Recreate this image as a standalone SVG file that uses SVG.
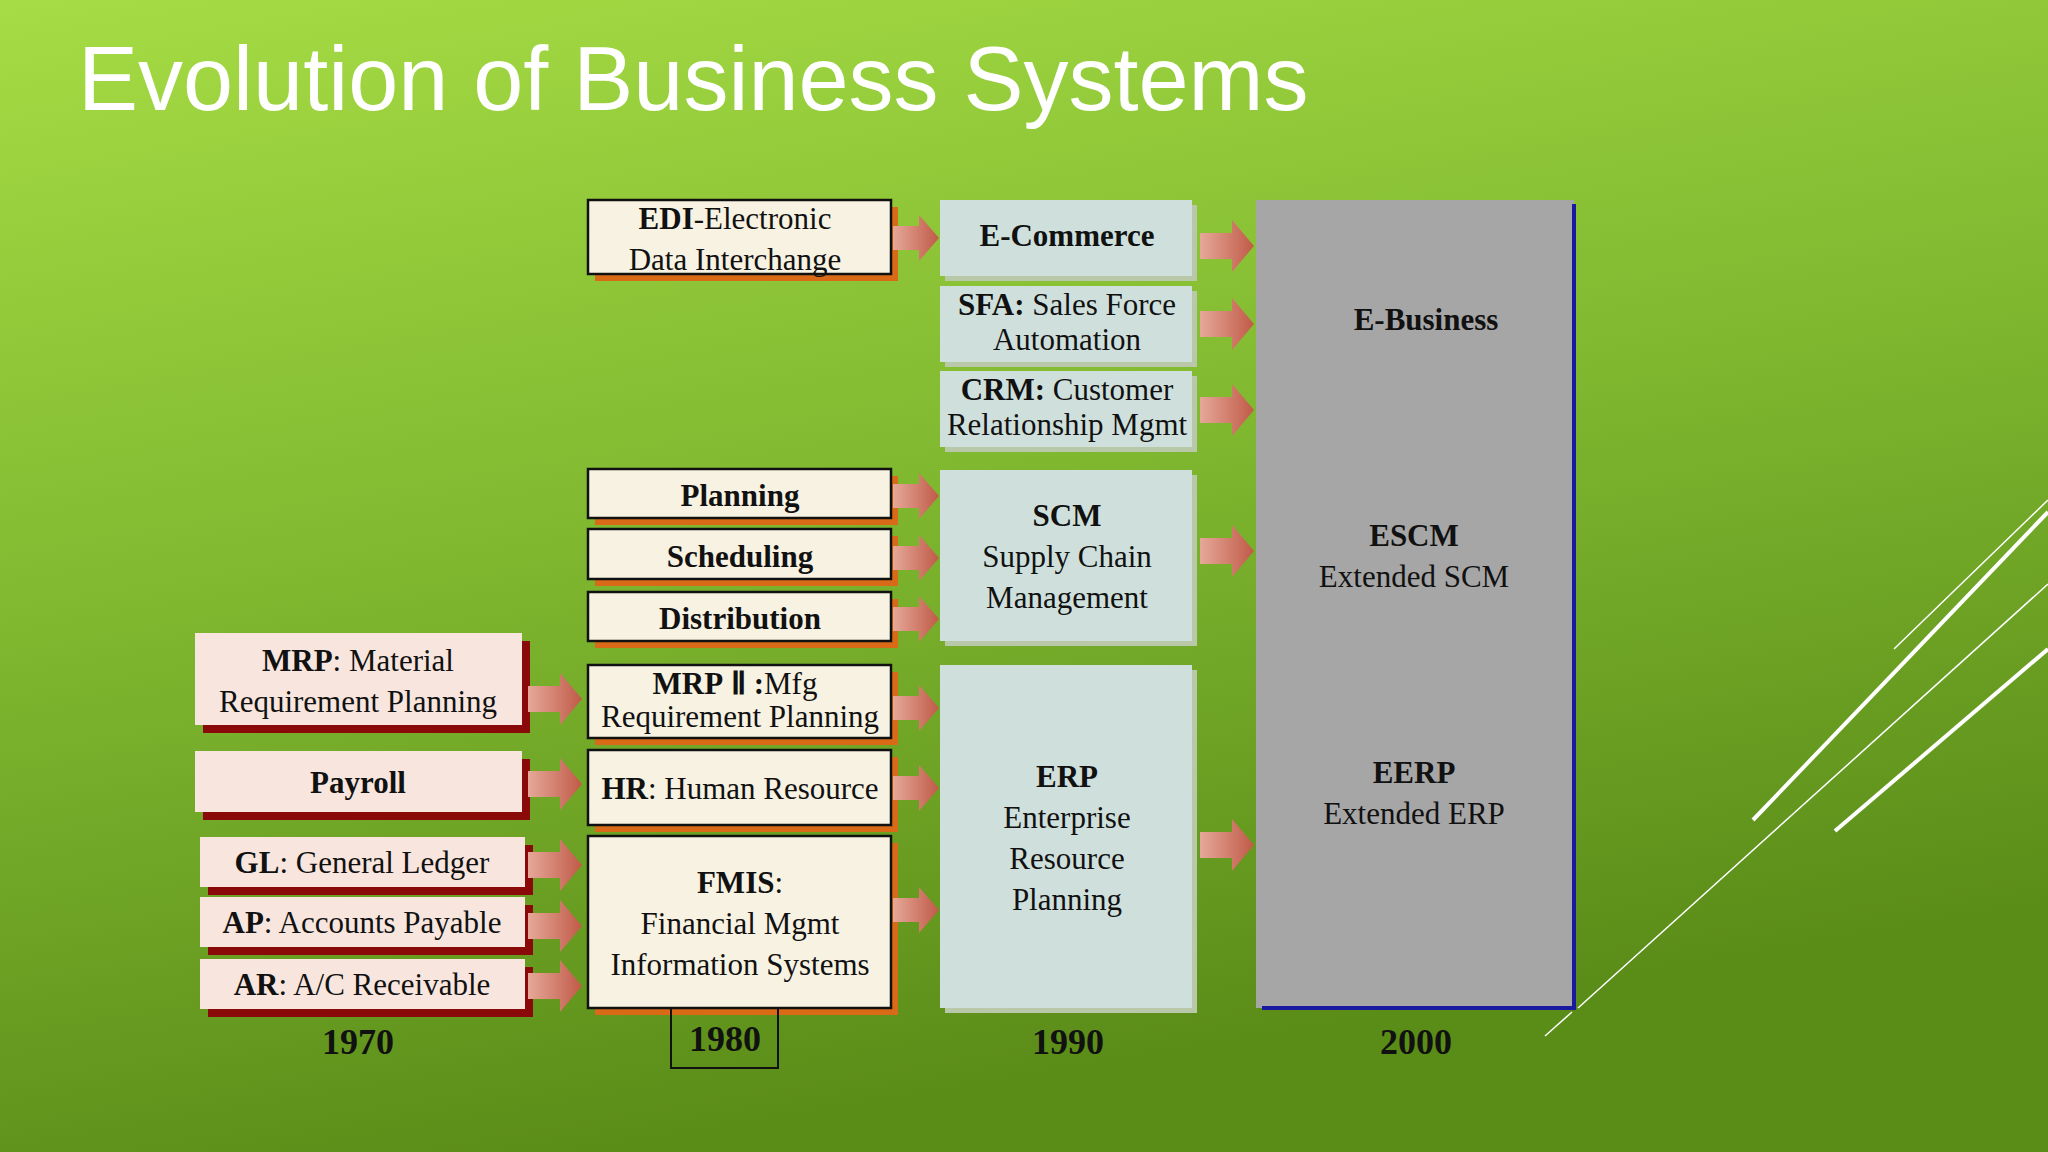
<svg xmlns="http://www.w3.org/2000/svg" width="2048" height="1152" viewBox="0 0 2048 1152">
<defs>
<linearGradient id="bg" x1="0" y1="0" x2="0.3" y2="1">
<stop offset="0" stop-color="#a6dc44"/><stop offset="0.5" stop-color="#80b830"/><stop offset="1" stop-color="#5a8c18"/>
</linearGradient>
<linearGradient id="ag" x1="0" y1="0" x2="1" y2="0">
<stop offset="0" stop-color="#e6a898"/><stop offset="1" stop-color="#c05a48"/>
</linearGradient>
<path id="arr" d="M0,-13 H32 V-26 L54,0 L32,26 V13 H0 Z" fill="url(#ag)"/>
<path id="arrs" d="M0,-12 H26 V-23 L46,0 L26,23 V12 H0 Z" fill="url(#ag)"/>
</defs>
<style>
text{font-family:"Liberation Serif","Times New Roman",serif;font-size:31px;fill:#111;text-anchor:middle}
.b{font-weight:bold}
.yr{font-weight:bold;font-size:36px}
.p{fill:#f8e6de}
.ps{fill:#8a0a0a}
.c{fill:#f8f2e2;stroke:#111;stroke-width:2.5}
.cs{fill:#d86a18}
.t{fill:#cfe0dc}
.ts{fill:#b8c8a8}
</style>
<rect width="2048" height="1152" fill="url(#bg)"/>
<text x="78" y="110" style="font-family:'Liberation Sans',Arial,sans-serif;font-size:90px;fill:#fff;text-anchor:start">Evolution of Business Systems</text>
<g stroke="#fff" fill="none">
<line x1="1578" y1="1008" x2="2048" y2="584" stroke-width="1.5"/>
<line x1="1545" y1="1036" x2="1572" y2="1012" stroke-width="1.5"/>
<line x1="1753" y1="820" x2="2048" y2="512" stroke-width="4"/>
<line x1="1835" y1="831" x2="2048" y2="649" stroke-width="4"/>
<line x1="1894" y1="649" x2="2048" y2="500" stroke-width="1.5"/>
</g>
<g id="n1970">
<g id="mrp"><rect class="ps" x="203" y="641" width="327" height="92"/><rect class="p" x="195" y="633" width="327" height="92"/>
<text x="358" y="671"><tspan class="b">MRP</tspan>: Material</text><text x="358" y="712">Requirement Planning</text></g>
<g id="payroll"><rect class="ps" x="203" y="759" width="327" height="61"/><rect class="p" x="195" y="751" width="327" height="61"/>
<text x="358" y="793" class="b">Payroll</text></g>
<g id="gl"><rect class="ps" x="208" y="845" width="325" height="50"/><rect class="p" x="200" y="837" width="325" height="50"/>
<text x="362" y="873"><tspan class="b">GL</tspan>: General Ledger</text></g>
<g id="ap"><rect class="ps" x="208" y="905" width="325" height="50"/><rect class="p" x="200" y="897" width="325" height="50"/>
<text x="362" y="933"><tspan class="b">AP</tspan>: Accounts Payable</text></g>
<g id="ar"><rect class="ps" x="208" y="967" width="325" height="50"/><rect class="p" x="200" y="959" width="325" height="50"/>
<text x="362" y="995"><tspan class="b">AR</tspan>: A/C Receivable</text></g>
<text x="358" y="1054" class="yr">1970</text>
</g>
<g id="n1980">
<g id="edi"><rect class="cs" x="595" y="207" width="303" height="74"/><rect class="c" x="588" y="200" width="303" height="74"/>
<text x="735" y="229"><tspan class="b">EDI</tspan>-Electronic</text><text x="735" y="270">Data Interchange</text></g>
<g id="planning"><rect class="cs" x="595" y="476" width="303" height="49"/><rect class="c" x="588" y="469" width="303" height="49"/>
<text x="740" y="506" class="b">Planning</text></g>
<g id="scheduling"><rect class="cs" x="595" y="536" width="303" height="50"/><rect class="c" x="588" y="529" width="303" height="50"/>
<text x="740" y="567" class="b">Scheduling</text></g>
<g id="distribution"><rect class="cs" x="595" y="599" width="303" height="49"/><rect class="c" x="588" y="592" width="303" height="49"/>
<text x="740" y="629" class="b">Distribution</text></g>
<g id="mrp2"><rect class="cs" x="595" y="672" width="303" height="73"/><rect class="c" x="588" y="665" width="303" height="73"/>
<text x="735" y="694"><tspan class="b">MRP</tspan> <tspan class="b">Ⅱ :</tspan>Mfg</text><text x="740" y="727">Requirement Planning</text></g>
<g id="hr"><rect class="cs" x="595" y="757" width="303" height="75"/><rect class="c" x="588" y="750" width="303" height="75"/>
<text x="740" y="799"><tspan class="b">HR</tspan>: Human Resource</text></g>
<g id="fmis"><rect class="cs" x="595" y="843" width="303" height="172"/><rect class="c" x="588" y="836" width="303" height="172"/>
<text x="740" y="893"><tspan class="b">FMIS</tspan>:</text><text x="740" y="934">Financial Mgmt</text><text x="740" y="975">Information Systems</text></g>
<rect x="671" y="1008" width="107" height="60" fill="none" stroke="#111" stroke-width="2"/>
<text x="725" y="1051" class="yr">1980</text>
</g>
<g id="n1990">
<g id="ecom"><rect class="ts" x="945" y="205" width="252" height="76"/><rect class="t" x="940" y="200" width="252" height="76"/>
<text x="1067" y="246" class="b">E-Commerce</text></g>
<g id="sfa"><rect class="ts" x="945" y="291" width="252" height="76"/><rect class="t" x="940" y="286" width="252" height="76"/>
<text x="1067" y="315"><tspan class="b">SFA:</tspan> Sales Force</text><text x="1067" y="350">Automation</text></g>
<g id="crm"><rect class="ts" x="945" y="376" width="252" height="76"/><rect class="t" x="940" y="371" width="252" height="76"/>
<text x="1067" y="400"><tspan class="b">CRM:</tspan> Customer</text><text x="1067" y="435">Relationship Mgmt</text></g>
<g id="scm"><rect class="ts" x="945" y="475" width="252" height="171"/><rect class="t" x="940" y="470" width="252" height="171"/>
<text x="1067" y="526" class="b">SCM</text><text x="1067" y="567">Supply Chain</text><text x="1067" y="608">Management</text></g>
<g id="erp"><rect class="ts" x="945" y="670" width="252" height="343"/><rect class="t" x="940" y="665" width="252" height="343"/>
<text x="1067" y="787" class="b">ERP</text><text x="1067" y="828">Enterprise</text><text x="1067" y="869">Resource</text><text x="1067" y="910">Planning</text></g>
<text x="1068" y="1054" class="yr">1990</text>
</g>
<g id="n2000">
<rect x="1256" y="200" width="318" height="808" fill="#a6a6a6"/>
<path d="M1574,204 V1008 H1262" fill="none" stroke="#1a1aa0" stroke-width="4"/>
<text x="1426" y="330" class="b">E-Business</text>
<text x="1414" y="546" class="b">ESCM</text><text x="1414" y="587">Extended SCM</text>
<text x="1414" y="783" class="b">EERP</text><text x="1414" y="824">Extended ERP</text>
<text x="1416" y="1054" class="yr">2000</text>
</g>
<g id="connectors">
<use href="#arr" x="528" y="699"/><use href="#arr" x="528" y="784"/><use href="#arr" x="528" y="865"/><use href="#arr" x="528" y="926"/><use href="#arr" x="528" y="986"/>
<use href="#arrs" x="893" y="238"/><use href="#arrs" x="893" y="496"/><use href="#arrs" x="893" y="558"/><use href="#arrs" x="893" y="619"/><use href="#arrs" x="893" y="708"/><use href="#arrs" x="893" y="788"/><use href="#arrs" x="893" y="910"/>
<use href="#arr" x="1200" y="246"/><use href="#arr" x="1200" y="324"/><use href="#arr" x="1200" y="410"/><use href="#arr" x="1200" y="551"/><use href="#arr" x="1200" y="845"/>
</g>
</svg>
